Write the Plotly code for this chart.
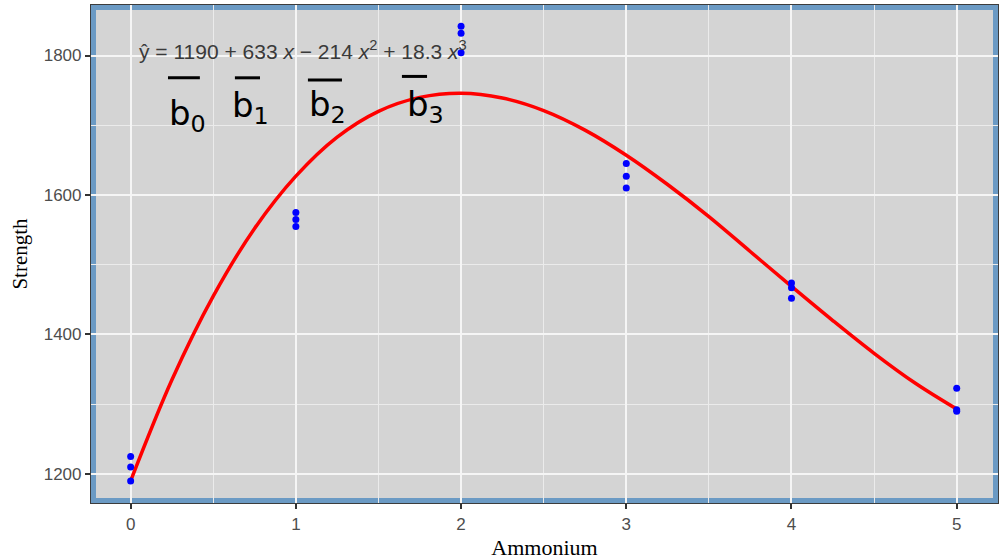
import plotly.graph_objects as go

# ---- data ----
ammonium = [0, 0, 0, 1, 1, 1, 2, 2, 2, 3, 3, 3, 4, 4, 4, 5, 5, 5]
strength = [1225, 1210, 1190, 1575, 1565, 1555, 1842, 1832, 1804,
            1645, 1627, 1610, 1474, 1467, 1452, 1323, 1292, 1290]

# fitted cubic curve
curve_x = [0, 0.25, 0.5, 0.75, 1, 1.25, 1.5, 1.75, 2, 2.25, 2.5,
           2.75, 3, 3.25, 3.5, 3.75, 4, 4.25, 4.5, 4.75, 5]
curve_y = [1190, 1335, 1455, 1552, 1627, 1683, 1720, 1740, 1746, 1739, 1721,
           1693, 1657, 1615, 1569, 1519, 1469, 1420, 1373, 1330, 1293]

x_ticks = [0, 1, 2, 3, 4, 5]
y_ticks = [1200, 1400, 1600, 1800]

equation = ("ŷ = 1190 + 633 <i>x</i> − 214 <i>x</i><sup>2</sup>"
            " + 18.3 <i>x</i><sup>3</sup>")
coef_labels = ["b<sub>0</sub>", "b<sub>1</sub>", "b<sub>2</sub>", "b<sub>3</sub>"]

# ---- layout helpers (positions of handwritten marks) ----
coef_pos = [(0.22, 1714), (0.60, 1726), (1.07, 1727), (1.66, 1727)]
bar_pos = [(0.226, 0.419, 1768), (0.631, 0.783, 1768),
           (1.073, 1.279, 1765), (1.642, 1.794, 1770)]

fig = go.Figure()
fig.add_trace(go.Scatter(x=curve_x, y=curve_y, mode="lines",
                         line=dict(color="#FF0000", width=3.5, shape="spline"),
                         showlegend=False, hoverinfo="skip"))
fig.add_trace(go.Scatter(x=ammonium, y=strength, mode="markers",
                         marker=dict(color="#0000FF", size=7),
                         showlegend=False))

W, H = 1000, 560
ml, mr, mt, mb = 91, 2, 5, 57
pw, ph = W - ml - mr, H - mt - mb
bw = 5
fig.add_shape(type="rect", xref="paper", yref="paper",
              x0=(bw / 2) / pw, x1=1 - (bw / 2) / pw,
              y0=(bw / 2) / ph, y1=1 - (bw / 2) / ph,
              line=dict(color="#6B9AC4", width=bw), layer="between")

for (x0, x1, y) in bar_pos:
    fig.add_shape(type="line", xref="x", yref="y", x0=x0, x1=x1, y0=y, y1=y,
                  line=dict(color="black", width=3))

fig.add_annotation(x=0.038, y=1808, xref="x", yref="y", text=equation,
                   showarrow=False, xanchor="left", yanchor="middle",
                   font=dict(family="Liberation Sans", size=21, color="#3a3a3a"))
for lab, (x, y) in zip(coef_labels, coef_pos):
    fig.add_annotation(x=x, y=y, xref="x", yref="y", text=lab,
                       showarrow=False, xanchor="left", yanchor="middle",
                       font=dict(family="DejaVu Sans", size=34, color="black"))

fig.update_layout(
    width=W, height=H,
    margin=dict(l=ml, r=mr, t=mt, b=mb, pad=0),
    paper_bgcolor="white", plot_bgcolor="#D4D4D4",
    showlegend=False,
)
axis_common = dict(
    showgrid=True, gridcolor="#F5F5F5", gridwidth=1.6,
    zeroline=False, showline=True, linecolor="#3c3c3c", linewidth=1.2,
    mirror=True, ticks="outside", ticklen=5, tickwidth=1.5, tickcolor="#333333",
    tickfont=dict(family="Liberation Sans", size=17, color="#4d4d4d"),
    automargin=False,
)
fig.update_xaxes(range=[-0.24, 5.25], tickvals=x_ticks,
                 minor=dict(dtick=0.5, tick0=0, showgrid=True, gridcolor="#EBEBEB", gridwidth=1, ticks=""),
                 title=dict(text="Ammonium", standoff=11,
                            font=dict(family="Liberation Serif", size=22, color="black")),
                 **axis_common)
fig.update_yaxes(range=[1158.4, 1872.4], tickvals=y_ticks,
                 minor=dict(dtick=100, tick0=1200, showgrid=True, gridcolor="#EBEBEB", gridwidth=1, ticks=""),
                 title=dict(text="Strength", standoff=10,
                            font=dict(family="Liberation Serif", size=21, color="black")),
                 **axis_common)

fig.write_html("out.html", config={"displayModeBar": False},
               post_script="document.body.style.margin='0';document.body.style.padding='0';")
